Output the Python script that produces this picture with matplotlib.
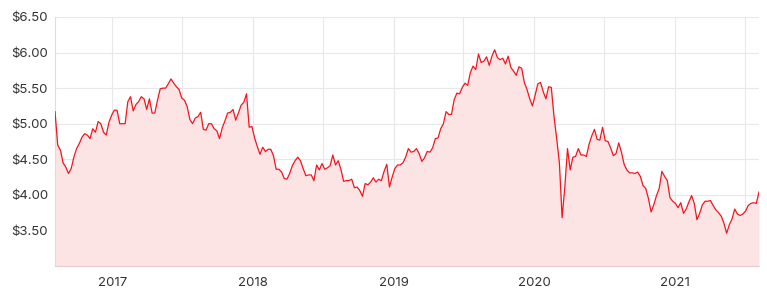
import matplotlib
matplotlib.use("Agg")
import matplotlib.pyplot as plt
import matplotlib.dates as mdates
from matplotlib.ticker import FuncFormatter, FixedLocator
import pandas as pd
import numpy as np

# Weekly closing prices (Fridays), Aug 2016 - Aug 2021
start_date = "2016-08-05"
end_date = "2021-08-06"
prices = [
    5.17, 4.70, 4.63, 4.45, 4.39, 4.30, 4.37, 4.53, 4.65, 4.72,
    4.81, 4.86, 4.84, 4.79, 4.93, 4.88, 5.03, 5.00, 4.88, 4.84,
    5.02, 5.12, 5.19, 5.19, 5.00, 5.00, 5.00, 5.31, 5.38, 5.18,
    5.27, 5.31, 5.38, 5.35, 5.20, 5.35, 5.15, 5.15, 5.33, 5.49,
    5.50, 5.50, 5.56, 5.63, 5.57, 5.52, 5.48, 5.36, 5.33, 5.24,
    5.06, 5.00, 5.08, 5.10, 5.16, 4.92, 4.91, 5.00, 5.00, 4.93,
    4.90, 4.79, 4.94, 5.04, 5.15, 5.16, 5.20, 5.05, 5.15, 5.26,
    5.30, 5.42, 4.95, 4.96, 4.80, 4.68, 4.57, 4.67, 4.61, 4.64,
    4.64, 4.55, 4.36, 4.36, 4.32, 4.23, 4.22, 4.30, 4.41, 4.48,
    4.53, 4.48, 4.37, 4.27, 4.28, 4.28, 4.20, 4.42, 4.35, 4.44,
    4.36, 4.38, 4.41, 4.56, 4.42, 4.48, 4.36, 4.19, 4.20, 4.20,
    4.22, 4.10, 4.11, 4.06, 3.98, 4.16, 4.14, 4.18, 4.24, 4.18,
    4.22, 4.20, 4.33, 4.43, 4.11, 4.25, 4.37, 4.42, 4.42, 4.45,
    4.53, 4.65, 4.60, 4.61, 4.65, 4.58, 4.47, 4.52, 4.61, 4.60,
    4.66, 4.79, 4.80, 4.93, 5.00, 5.17, 5.13, 5.13, 5.34, 5.43,
    5.42, 5.51, 5.57, 5.54, 5.72, 5.81, 5.76, 5.98, 5.86, 5.88,
    5.94, 5.82, 5.95, 6.04, 5.93, 5.90, 5.92, 5.84, 5.95, 5.79,
    5.74, 5.68, 5.80, 5.78, 5.58, 5.48, 5.35, 5.25, 5.40, 5.56,
    5.58, 5.45, 5.35, 5.52, 5.51, 5.10, 4.79, 4.45, 3.68, 4.10,
    4.65, 4.35, 4.53, 4.54, 4.65, 4.56, 4.56, 4.54, 4.71, 4.83,
    4.92, 4.78, 4.77, 4.95, 4.76, 4.75, 4.66, 4.55, 4.58, 4.73,
    4.60, 4.43, 4.35, 4.31, 4.31, 4.30, 4.32, 4.26, 4.13, 4.09,
    3.95, 3.76, 3.86, 3.99, 4.09, 4.33, 4.26, 4.20, 3.96, 3.91,
    3.88, 3.82, 3.89, 3.74, 3.80, 3.90, 3.99, 3.88, 3.65, 3.74,
    3.86, 3.91, 3.91, 3.92, 3.85, 3.79, 3.75, 3.70, 3.60, 3.46,
    3.58, 3.66, 3.80, 3.73, 3.71, 3.73, 3.77, 3.85, 3.88, 3.89,
    3.88, 4.04,
]
y_ticks = [3.50, 4.00, 4.50, 5.00, 5.50, 6.00, 6.50]
year_labels = ["2017", "2018", "2019", "2020", "2021"]
half_year_grid = ["2017-07-01", "2018-07-01", "2019-07-01", "2020-07-01", "2021-07-01"]

dates = pd.date_range(start_date, end_date, freq="W-FRI")
s = pd.Series(prices, index=dates)

plt.rcParams['font.family'] = ['Inter', 'DejaVu Sans']

fig = plt.figure(figsize=(7.67, 2.97), dpi=100)
ax = fig.add_axes([55 / 767, 1 - 266 / 297, (759 - 55) / 767, (266 - 17) / 297])

line_color = "#f5141e"
fill_color = "#fde4e4"
ymin, ymax = 3.0, 6.5

ax.fill_between(s.index, ymin, s.values, color=fill_color, linewidth=0, zorder=1)
ax.plot(s.index, s.values, color=line_color, linewidth=0.9, zorder=3)

ax.set_xlim(s.index[0], s.index[-1])
ax.set_ylim(ymin, ymax)

ax.set_yticks(y_ticks)
ax.yaxis.set_major_formatter(FuncFormatter(lambda v, p: f"${v:.2f}"))

year_dates = [mdates.date2num(pd.Timestamp(f"{y}-01-01")) for y in year_labels]
ax.xaxis.set_major_locator(FixedLocator(year_dates))
ax.set_xticklabels(year_labels)
ax.xaxis.set_minor_locator(FixedLocator([mdates.date2num(pd.Timestamp(d)) for d in half_year_grid]))

ax.grid(True, which="both", axis="x", color="#e8e8e8", linewidth=0.8, zorder=0)
ax.grid(True, which="major", axis="y", color="#e8e8e8", linewidth=0.8, zorder=0)
ax.set_axisbelow(True)

ax.tick_params(axis="both", which="both", length=0, labelsize=9.5, colors="#333333")
ax.tick_params(axis="y", pad=5)
ax.tick_params(axis="x", pad=8)

for side in ["top", "right"]:
    ax.spines[side].set_visible(False)
ax.spines["left"].set_color("#dddddd")
ax.spines["bottom"].set_color("#e6cccc")
ax.spines["left"].set_linewidth(0.8)
ax.spines["bottom"].set_linewidth(0.8)

fig.savefig("out.png", dpi=100, facecolor="white")
